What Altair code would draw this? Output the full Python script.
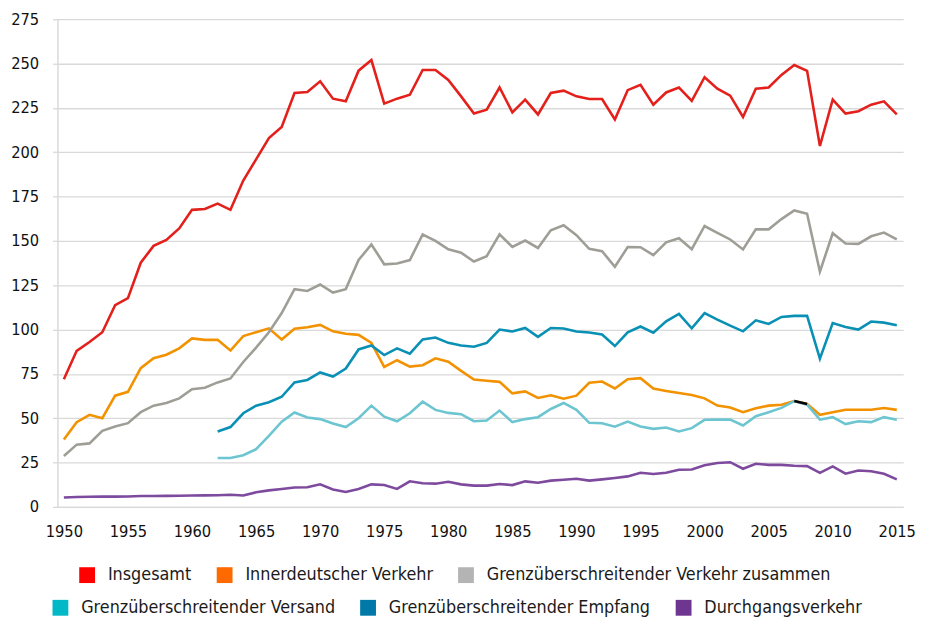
import altair as alt
import pandas as pd

years = list(range(1950, 2016))
years_1962 = list(range(1962, 2016))

series_names = [
    "Insgesamt",
    "Innerdeutscher Verkehr",
    "Grenzüberschreitender Verkehr zusammen",
    "Grenzüberschreitender Versand",
    "Grenzüberschreitender Empfang",
    "Durchgangsverkehr",
]

insgesamt = [72, 88, 93, 98.5, 113.8, 117.7, 137.7, 147.2, 150.5, 157,
             167.5, 168, 171, 167.5, 184, 196, 208, 214.2, 233.4, 234,
             240, 230.2, 228.7, 246, 252, 227.4, 230.2, 232.4, 246.4, 246.4,
             240.8, 231.5, 221.8, 224, 236.5, 222.5, 229.7, 221.3, 233.4, 234.7,
             231.5, 230, 230, 218.5, 235, 238, 226.8, 233.7, 236.5, 229,
             242.3, 235.8, 231.9, 219.9, 235.8, 236.5, 243.6, 249.2, 245.9, 203.5,
             229.7, 221.8, 223.1, 226.8, 228.7, 221.3]

innerdeutsch = [38, 47.8, 51.9, 50, 62.7, 64.9, 78.2, 83.8, 85.8, 89.4,
                95, 94.2, 94.2, 88.2, 96.3, 98.5, 100.7, 94.4, 100.4, 101.3,
                102.6, 99, 97.6, 97, 92.5, 78.9, 82.7, 79.1, 79.9, 83.8,
                81.9, 76.7, 71.8, 71.1, 70.5, 64, 65.1, 61.4, 62.9, 61,
                62.7, 70, 70.7, 66.8, 72, 72.6, 66.8, 65.3, 64.2, 63.1,
                61.2, 57.1, 56, 53.4, 55.6, 57.1, 57.6, 59.7, 58, 51.9,
                53.4, 54.8, 54.8, 54.8, 55.8, 54.7]

grenz_zusammen = [28.7, 35.1, 35.8, 42.9, 45.3, 47.2, 53.4, 57.1, 58.6, 61.2,
                  66.3, 67.2, 70.2, 72.4, 81.7, 89.8, 98.5, 109.3, 122.8, 121.8,
                  125.4, 120.9, 122.8, 139.2, 148, 136.8, 137.3, 139.2, 153.6, 150,
                  145.3, 143.3, 138.4, 141.4, 153.7, 146.6, 150.2, 146, 156, 158.8,
                  153.2, 145.5, 144.2, 135.4, 146.5, 146.4, 142, 149.2, 151.5, 145.3,
                  158.4, 154.5, 150.8, 145.2, 156.5, 156.5, 162.3, 167.2, 165.3, 132.6,
                  154.3, 148.5, 148.3, 152.6, 154.7, 150.9]

versand = [27.6, 27.6, 29.1, 32.5, 40, 48.1, 53.2, 50.4,
           49.5, 47, 45, 50, 57.1, 50.9, 48.3, 52.8, 59.3, 54.7,
           53, 52.3, 48.3, 48.7, 54.3, 47.8, 49.5, 50.6, 55.2, 58.6,
           54.7, 47.4, 47.2, 45.2, 48.1, 45.3, 44, 44.8, 42.5, 44.4,
           49.1, 49.2, 49.2, 45.9, 51.1, 53.4, 55.8, 59.7, 57.6, 49.2,
           50.6, 46.7, 48.3, 47.8, 50.6, 49.2]

empfang = [42.5, 45, 52.8, 57.1, 59, 62.1, 70.2, 71.6,
           75.8, 73.5, 78, 88.8, 91, 85.6, 89.4, 86.4, 94.4, 95.5,
           92.5, 91, 90.3, 92.5, 100, 98.9, 100.9, 95.9, 100.9, 100.6,
           98.9, 98.3, 97.2, 90.7, 98.4, 101.7, 98.2, 104.6, 108.8, 100.7,
           109.3, 105.6, 102.2, 99, 105.2, 103.2, 107.1, 107.7, 107.7, 83.6,
           103.7, 101.5, 100, 104.5, 103.9, 102.4]

durchgang = [5.3, 5.6, 5.7, 5.8, 5.8, 5.9, 6.1, 6.1, 6.2, 6.3,
             6.4, 6.5, 6.6, 6.8, 6.4, 8.2, 9.3, 10.1, 10.9, 11.1,
             12.7, 9.8, 8.4, 10.1, 12.7, 12.3, 10.1, 14.4, 13.3, 13.1,
             14.2, 12.7, 12, 12, 12.9, 12.3, 14.4, 13.6, 14.8, 15.3,
             15.9, 14.8, 15.5, 16.3, 17.2, 19.2, 18.5, 19.2, 20.9, 21.1,
             23.5, 24.8, 25.2, 21.5, 24.3, 23.7, 23.7, 23.2, 23, 19.2,
             22.8, 18.7, 20.5, 20.1, 18.7, 15.5]

# small dark segment visible in the original between 2007 and 2008
segment_years = [2007, 2008]
segment_values = [59.7, 58]

line_colors = ["#e3201b", "#f39200", "#9f9e96", "#6cc5d0", "#0a90b4", "#7d4a9e"]
legend_colors = ["#ff0000", "#ff6a00", "#b4b4b4", "#00b8c6", "#0079a8", "#6e3591"]

rows = []
for name, ys, vals in [
    (series_names[0], years, insgesamt),
    (series_names[1], years, innerdeutsch),
    (series_names[2], years, grenz_zusammen),
    (series_names[3], years_1962, versand),
    (series_names[4], years_1962, empfang),
    (series_names[5], years, durchgang),
]:
    for yr, v in zip(ys, vals):
        rows.append({"Jahr": yr, "Wert": v, "Reihe": name})
df = pd.DataFrame(rows)

seg_df = pd.DataFrame({"Jahr": segment_years, "Wert": segment_values})

FONT = "DejaVu Sans Condensed, Liberation Sans Narrow, sans-serif"
GRID = "#d9d9d9"

x_enc = alt.X(
    "Jahr:Q",
    scale=alt.Scale(domain=[1949.5, 2015.5], nice=False, zero=False),
    axis=alt.Axis(
        values=list(range(1950, 2016, 5)), format="d", title=None, grid=False,
        ticks=False, tickSize=0, labelPadding=17, labelFontSize=16.5, labelFont=FONT,
        labelColor="#111111", domainColor=GRID, domainWidth=1.5, labelFlush=False,
    ),
)
y_enc = alt.Y(
    "Wert:Q",
    scale=alt.Scale(domain=[0, 275], nice=False),
    axis=alt.Axis(
        values=list(range(0, 276, 25)), title=None, grid=True, gridColor=GRID,
        gridWidth=1.3, tickColor=GRID, tickSize=5, tickWidth=1.3, labelPadding=14,
        labelFontSize=16.5, labelFont=FONT, labelColor="#111111",
        domainColor=GRID, domainWidth=1.5,
    ),
)

lines = alt.Chart(df).mark_line(strokeWidth=2.6, clip=True).encode(
    x=x_enc,
    y=y_enc,
    color=alt.Color("Reihe:N", scale=alt.Scale(domain=series_names, range=line_colors), legend=None),
    order=alt.Order("Jahr:Q"),
)

seg = alt.Chart(seg_df).mark_line(strokeWidth=2.6, color="#000000").encode(
    x="Jahr:Q", y="Wert:Q"
)


def legend_layer(names, colors, lx, ly):
    ldf = pd.DataFrame({"Reihe": names, "Jahr": [1950] * len(names), "Wert": [0] * len(names)})
    return alt.Chart(ldf).mark_square(size=0, opacity=1).encode(
        x="Jahr:Q",
        y="Wert:Q",
        color=alt.Color(
            "Reihe:N",
            scale=alt.Scale(domain=names, range=colors),
            legend=alt.Legend(
                orient="none", legendX=lx, legendY=ly, direction="horizontal", title=None,
                symbolType="square", symbolSize=256, symbolStrokeWidth=0, symbolOpacity=1,
                labelFont=FONT, labelFontSize=18, labelColor="#1a1a1a", labelOffset=12,
                columnPadding=24, padding=0, labelLimit=600,
            ),
        ),
    )


leg1 = legend_layer(series_names[:3], legend_colors[:3], 21, 553)
leg2 = legend_layer(series_names[3:], legend_colors[3:], -6, 586)

chart = (
    alt.layer(lines, seg, leg1, leg2)
    .resolve_scale(color="independent")
    .properties(width=855, height=493, padding={"left": 2, "top": 0, "right": 5, "bottom": 0})
    .configure_view(stroke=None)
)

chart.save("out.html", embed_options={"renderer": "svg", "actions": False})
